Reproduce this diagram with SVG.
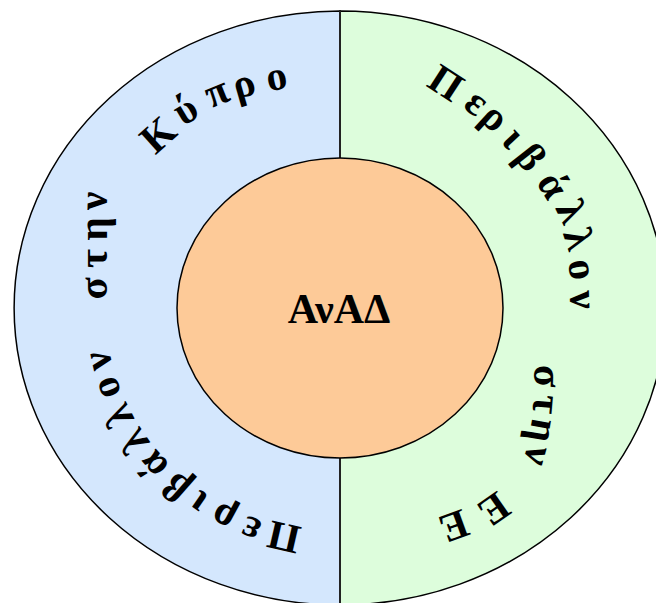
<svg xmlns="http://www.w3.org/2000/svg" width="656" height="603" viewBox="0 0 656 603">
<style>
.ring{font-family:"Liberation Serif","Times New Roman",serif;font-weight:bold;font-size:41px;fill:#000}
.core{font-family:"Liberation Serif","Times New Roman",serif;font-weight:bold;font-size:42px;fill:#000}
.edge{stroke:#000;stroke-width:1.5}
</style>
<rect width="656" height="603" fill="#fff"/>
<g id="left-half">
<path d="M340,11 A326,297 0 0 0 340,605 Z" fill="#D4E7FD" class="edge"/>
<text class="ring" x="302.6 263.4 238.4 210.3 193.0 170.6 150.6 134.7 121.8 112.5" y="527.5 521.4 511.8 496.4 484.7 465.3 442.5 419.1 393.6 367.3" rotate="193 201.2 208.3 214.8 221.3 228.7 236 243.1 250.3 257.4">Περιβάλλον</text>
<text class="ring" x="106.6 106.6 106.6 106.2" y="299.4 268.1 240.4 210.6" rotate="270 270 270 272">στην</text>
<text class="ring" x="155.2 183.1 211.1 236.7 268.8" y="155.6 126.6 108.2 99.4 91.4" rotate="-42 -31 -22 -16 -11">Κύπρο</text>
</g>
<g id="right-half">
<path d="M340,11 A326,297 0 0 1 340,605 Z" fill="#DDFDDC" class="edge"/>
<text class="ring" x="425.3 461.9 478.2 500.1 513.4 535.8 554.9 562.7 568.1 570.0" y="85.5 106.9 119.4 141.4 156.9 182.3 208.0 233.2 261.1 291.1" rotate="33 38 42 47 52 58 64 72 82 88">Περιβάλλον</text>
<text class="ring" x="534.8 534.2 532.6 528.6" y="364.4 394.1 417.0 443.5" rotate="92 95 100 106">στην</text>
<text class="ring" x="497.4 462.2" y="490.2 508.7" rotate="145 160">ΕΕ</text>
</g>
<g id="connectors">
<path d="M340,11 V158 M340,458 V605" fill="none" stroke="#222" stroke-width="2"/>
</g>
<g id="center">
<ellipse cx="340" cy="308" rx="163" ry="150" fill="#FDCA98" class="edge"/>
<text class="core" x="339" y="323" text-anchor="middle">ΑνΑΔ</text>
</g>
</svg>
